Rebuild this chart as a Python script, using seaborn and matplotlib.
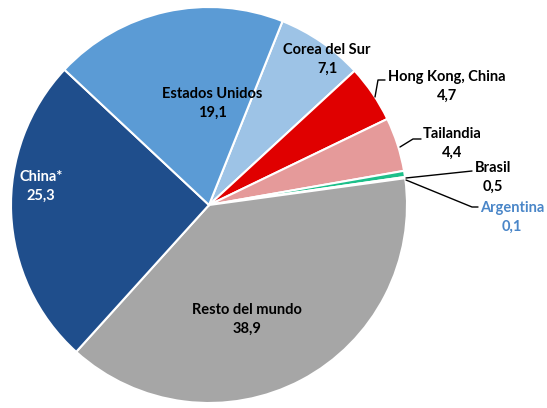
import matplotlib
matplotlib.use("Agg")
import matplotlib.pyplot as plt
import seaborn as sns
import numpy as np

sns.set_theme(style="white")
plt.rcParams['font.family'] = ['Lato', 'DejaVu Sans']

# Shares by destination (%), clockwise order
paises = ["Corea del Sur", "Hong Kong, China", "Tailandia", "Brasil",
          "Argentina", "Resto del mundo", "China*", "Estados Unidos"]
valores = [7.1, 4.7, 4.4, 0.5, 0.1, 38.9, 25.3, 19.1]
etiquetas = ["7,1", "4,7", "4,4", "0,5", "0,1", "38,9", "25,3", "19,1"]
colores = ["#9dc3e6", "#e00000", "#e59a9a", "#1dbf8a",
           "#7fb2e5", "#a6a6a6", "#1f4e8c", "#5b9bd5"]

W, H = 547, 408
fig = plt.figure(figsize=(W / 100, H / 100), dpi=100)
cx, cy, r = 209, 205, 198
ax = fig.add_axes([(cx - r) / W, (H - cy - r) / H, 2 * r / W, 2 * r / H])

ax.pie(valores, colors=colores, startangle=68.2, counterclock=False,
       wedgeprops=dict(edgecolor="white", linewidth=1.5))
ax.set_xlim(-1, 1)
ax.set_ylim(-1, 1)
ax.set_aspect("equal")
ax.axis("off")


def px(x, y):
    """Pixel position -> data coordinates of the pie axes."""
    return (x - cx) / r, (cy - y) / r


def etiqueta(x, y, nombre, valor, color="black"):
    tx, ty = px(x, y)
    ax.text(tx, ty, f"{nombre}\n{valor}", ha="center", va="center",
            fontsize=10.5, fontweight="bold", color=color, linespacing=1.42,
            clip_on=False)


etiqueta(327, 59, paises[0], etiquetas[0])
etiqueta(447, 86, paises[1], etiquetas[1])
etiqueta(452, 143, paises[2], etiquetas[2])
etiqueta(493, 177, paises[3], etiquetas[3])
etiqueta(512, 217, paises[4], etiquetas[4], color="#4a86c8")
etiqueta(247, 319, paises[5], etiquetas[5])
etiqueta(41, 186, paises[6], etiquetas[6], color="white")
etiqueta(212, 103, paises[7], etiquetas[7])

# Leader lines
lineas = [
    [(375, 97), (378, 80), (385, 80)],
    [(400, 147), (413, 139), (421, 139)],
    [(406, 178), (472, 171)],
    [(406, 180), (472, 207), (478, 207)],
]
for pts in lineas:
    xs, ys = zip(*[px(*p) for p in pts])
    ax.plot(xs, ys, color="black", linewidth=1.0, clip_on=False)

fig.savefig("out.png", dpi=100)
